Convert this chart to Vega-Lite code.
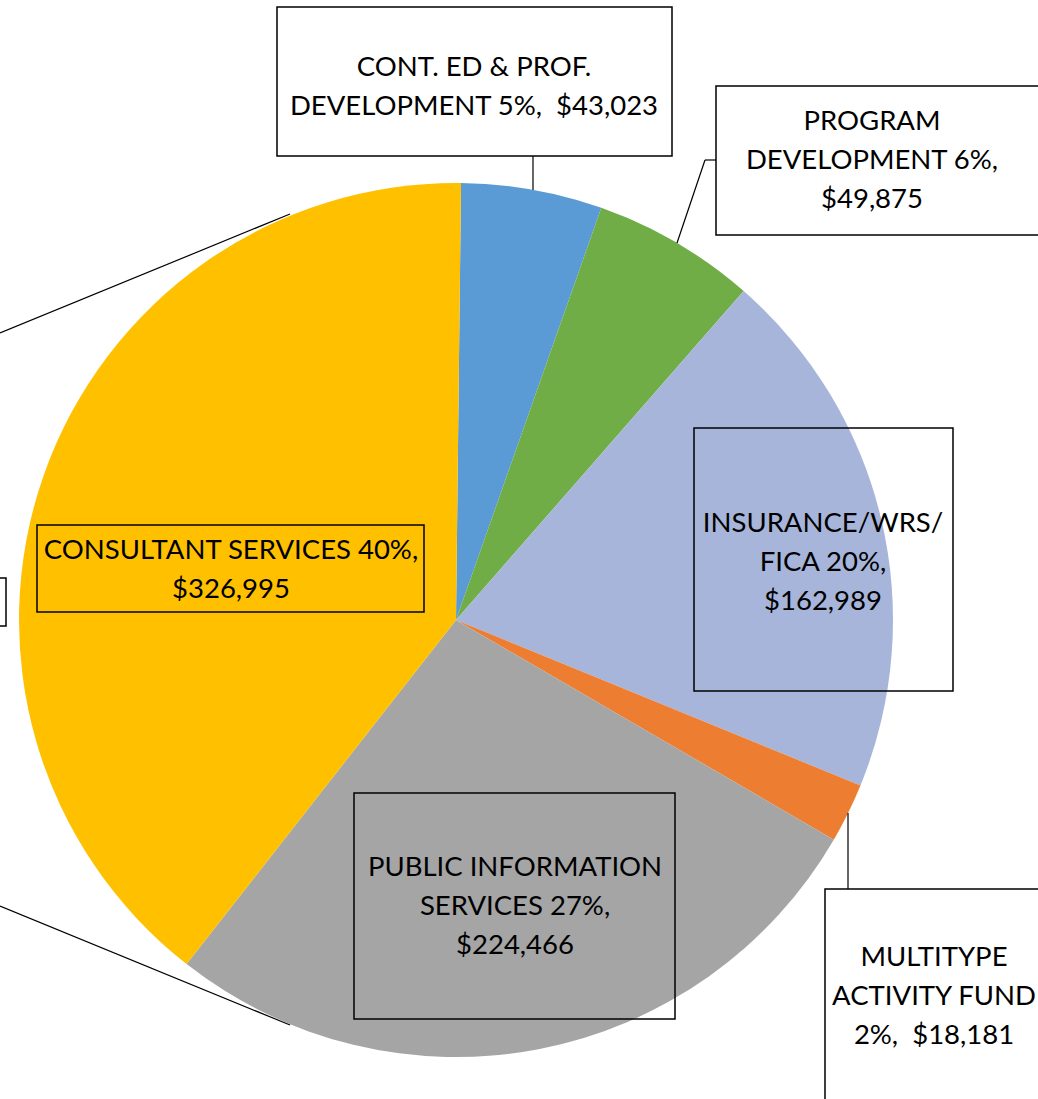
{
  "$schema": "https://vega.github.io/schema/vega-lite/v6.json",
  "width": 1038,
  "height": 1099,
  "padding": 0,
  "autosize": {"type": "none"},
  "background": "white",
  "config": {"view": {"stroke": null}},
  "datasets": {
    "slices": [
      {"category": "CONT. ED & PROF. DEVELOPMENT", "value": 43023, "order": 1},
      {"category": "PROGRAM DEVELOPMENT", "value": 49875, "order": 2},
      {"category": "INSURANCE/WRS/FICA", "value": 162989, "order": 3},
      {"category": "MULTITYPE ACTIVITY FUND", "value": 18181, "order": 4},
      {"category": "PUBLIC INFORMATION SERVICES", "value": 224466, "order": 5},
      {"category": "CONSULTANT SERVICES", "value": 326995, "order": 6}
    ],
    "labels": [
      {"text": "CONT. ED & PROF.\nDEVELOPMENT 5%,\u00a0 $43,023", "x": 474, "y": 68},
      {"text": "PROGRAM\nDEVELOPMENT 6%,\n$49,875", "x": 872, "y": 122},
      {"text": "INSURANCE/WRS/\nFICA 20%,\n$162,989", "x": 823, "y": 524},
      {"text": "MULTITYPE\nACTIVITY FUND\n2%,\u00a0 $18,181", "x": 934, "y": 958},
      {"text": "PUBLIC INFORMATION\nSERVICES 27%,\n$224,466", "x": 515, "y": 868},
      {"text": "CONSULTANT SERVICES 40%,\n$326,995", "x": 231, "y": 551}
    ],
    "boxes": [
      {"x": 277, "x2": 672, "y": 7, "y2": 156},
      {"x": 716, "x2": 1070, "y": 86, "y2": 235},
      {"x": 694, "x2": 953, "y": 428, "y2": 691},
      {"x": 825, "x2": 1070, "y": 889, "y2": 1130},
      {"x": 354, "x2": 675, "y": 793, "y2": 1019},
      {"x": 37, "x2": 424, "y": 525, "y2": 612},
      {"x": -60, "x2": 6, "y": 578, "y2": 626}
    ],
    "leaders": [
      {"x": 533, "y": 156, "x2": 533, "y2": 190},
      {"x": 716, "y": 160, "x2": 705, "y2": 160},
      {"x": 705, "y": 160, "x2": 677, "y2": 243},
      {"x": 848, "y": 889, "x2": 848, "y2": 813},
      {"x": 0, "y": 333, "x2": 290, "y2": 214},
      {"x": 0, "y": 906, "x2": 290, "y2": 1025}
    ]
  },
  "layer": [
    {
      "data": {"name": "slices"},
      "mark": {"type": "arc", "outerRadius": 437, "stroke": null},
      "encoding": {
        "theta": {"field": "value", "type": "quantitative", "stack": true, "scale": {"range": [0.0115, 6.2947]}},
        "order": {"field": "order", "type": "quantitative"},
        "color": {
          "field": "category",
          "type": "nominal",
          "sort": null,
          "legend": null,
          "scale": {
            "domain": ["CONT. ED & PROF. DEVELOPMENT", "PROGRAM DEVELOPMENT", "INSURANCE/WRS/FICA", "MULTITYPE ACTIVITY FUND", "PUBLIC INFORMATION SERVICES", "CONSULTANT SERVICES"],
            "range": ["#5B9BD5", "#70AD47", "#A7B5DA", "#ED7D31", "#A5A5A5", "#FFC000"]
          }
        },
        "x": {"datum": 456, "type": "quantitative", "scale": {"domain": [0, 1038], "range": [0, 1038], "nice": false, "zero": false}, "axis": null},
        "y": {"datum": 620, "type": "quantitative", "scale": {"domain": [0, 1099], "range": [0, 1099], "nice": false, "zero": false}, "axis": null}
      }
    },
    {
      "data": {"name": "boxes"},
      "mark": {"type": "rect", "fill": null, "fillOpacity": 0, "stroke": "#000000", "strokeWidth": 1.5},
      "encoding": {
        "x": {"field": "x", "type": "quantitative", "scale": {"domain": [0, 1038], "range": [0, 1038], "nice": false, "zero": false}, "axis": null},
        "x2": {"field": "x2"},
        "y": {"field": "y", "type": "quantitative", "scale": {"domain": [0, 1099], "range": [0, 1099], "nice": false, "zero": false}, "axis": null},
        "y2": {"field": "y2"}
      }
    },
    {
      "data": {"name": "leaders"},
      "mark": {"type": "rule", "stroke": "#000000", "strokeWidth": 1.2},
      "encoding": {
        "x": {"field": "x", "type": "quantitative", "axis": null},
        "x2": {"field": "x2"},
        "y": {"field": "y", "type": "quantitative", "axis": null},
        "y2": {"field": "y2"}
      }
    },
    {
      "data": {"name": "labels"},
      "mark": {"type": "text", "font": "Lato", "fontSize": 27.5, "lineHeight": 39, "align": "center", "baseline": "middle", "lineBreak": "\n", "color": "#000000"},
      "encoding": {
        "x": {"field": "x", "type": "quantitative", "axis": null},
        "y": {"field": "y", "type": "quantitative", "axis": null},
        "text": {"field": "text", "type": "nominal"}
      }
    }
  ]
}
